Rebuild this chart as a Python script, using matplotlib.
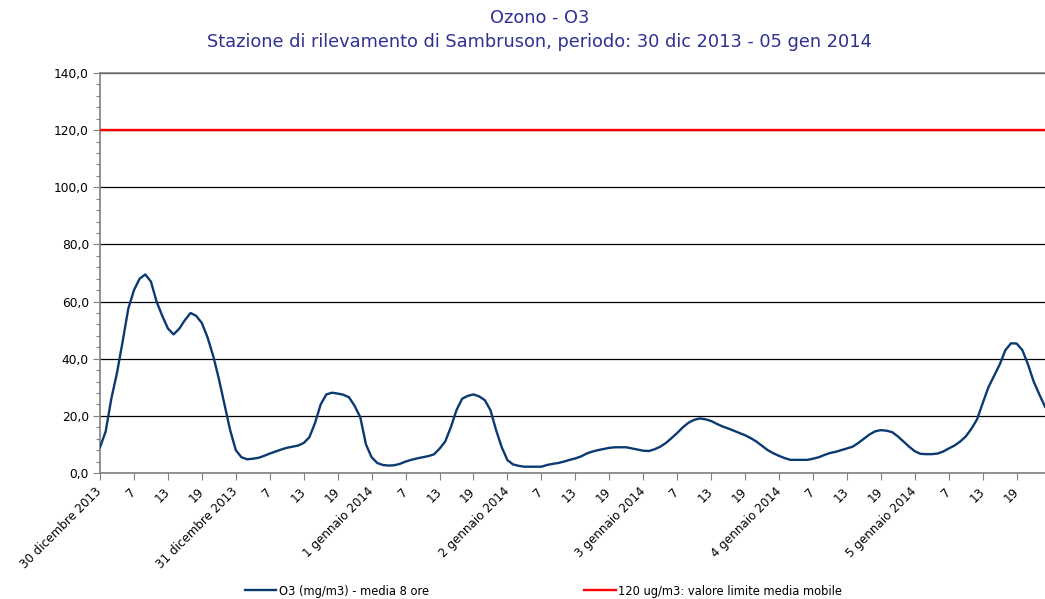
import numpy as np
import matplotlib
matplotlib.use("Agg")
import matplotlib.pyplot as plt
from matplotlib.ticker import MultipleLocator, FuncFormatter

# --- Data (hourly O3, 30 dic 2013 h1 -> 5 gen 2014 h24) ---
o3_values = [
    9, 14.5, 26, 35, 46, 57.5, 64, 68, 69.5, 67, 60, 55,
    50.6, 48.5, 50.5, 53.5, 56, 55, 52.5, 47.5, 41, 33, 24, 15,
    8, 5.5, 4.8, 5, 5.3, 6, 6.8, 7.5, 8.2, 8.8, 9.2, 9.6,
    10.5, 12.5, 17.5, 24, 27.5, 28.1, 27.8, 27.4, 26.5, 23.5, 19.5, 10,
    5.5, 3.5, 2.8, 2.6, 2.7, 3.2, 4, 4.6, 5.1, 5.5, 5.9, 6.5,
    8.5, 11, 16, 22, 26, 27, 27.5, 26.8, 25.5, 22, 15, 9,
    4.5, 3, 2.5, 2.2, 2.2, 2.2, 2.2, 2.8, 3.2, 3.5, 4, 4.6,
    5.1, 5.8, 6.8, 7.5, 8, 8.4, 8.8, 9, 9, 9, 8.6, 8.2,
    7.8, 7.7, 8.3, 9.2, 10.5, 12.2, 14, 16, 17.6, 18.6, 19.1, 18.8,
    18.2, 17.2, 16.3, 15.6, 14.8, 14, 13.2, 12.2, 11, 9.5, 8, 6.9,
    6, 5.2, 4.6, 4.6, 4.6, 4.6, 5, 5.5, 6.3, 7, 7.4, 8,
    8.6, 9.2, 10.5, 12, 13.5, 14.6, 15, 14.8, 14.3, 12.8, 11, 9.2,
    7.6, 6.7, 6.6, 6.6, 6.8, 7.5, 8.6, 9.6, 11, 12.8, 15.5, 18.8,
    24.5, 30, 34, 38, 43, 45.4, 45.3, 43, 38, 32, 27.5, 23.2,
]
limit_value = 120
day_labels = ["30 dicembre 2013", "31 dicembre 2013", "1 gennaio 2014",
              "2 gennaio 2014", "3 gennaio 2014", "4 gennaio 2014",
              "5 gennaio 2014"]
hour_labels = ["7", "13", "19"]
series_label = "O3 (mg/m3) - media 8 ore"
limit_label = "120 ug/m3: valore limite media mobile"
title_text = "Ozono - O3\nStazione di rilevamento di Sambruson, periodo: 30 dic 2013 - 05 gen 2014"

# --- Plot ---
hours = np.arange(len(o3_values))
fig = plt.figure(figsize=(10.45, 5.99), dpi=100)
ax = fig.add_axes([100 / 1045, 1 - 473 / 599, 945 / 1045, 400 / 599])

ax.plot(hours, o3_values, color="#0b3a70", lw=1.7, label=series_label, zorder=3)
ax.axhline(limit_value, color="#ff0000", lw=1.7, label=limit_label, zorder=3)

ax.set_xlim(0, len(o3_values) - 1)
ax.set_ylim(0, 140)

# y axis
ax.yaxis.set_major_locator(MultipleLocator(20))
ax.yaxis.set_minor_locator(MultipleLocator(4))
ax.yaxis.set_major_formatter(FuncFormatter(lambda v, p: f"{v:.1f}".replace(".", ",")))
ax.grid(axis="y", color="black", lw=0.9)
ax.tick_params(axis="y", which="major", length=5, width=0.8, color="#808080",
               labelsize=8.8, pad=3)
ax.tick_params(axis="y", which="minor", length=3, width=0.8, color="#808080")

# x axis: ticks every 6 hours
tick_pos = np.arange(0, len(o3_values), 6)
tick_lab = []
for k in range(len(tick_pos)):
    if k % 4 == 0:
        tick_lab.append(day_labels[k // 4])
    else:
        tick_lab.append(hour_labels[k % 4 - 1])
ax.set_xticks(tick_pos)
ax.set_xticklabels(tick_lab, rotation=45, ha="right", va="center",
                   rotation_mode="anchor", fontsize=8.6)
ax.tick_params(axis="x", length=5, width=0.8, color="#808080", pad=7)

for side in ["left", "bottom", "top"]:
    ax.spines[side].set_color("#808080")
    ax.spines[side].set_linewidth(1.2)
ax.spines["right"].set_visible(False)

fig.suptitle(title_text, x=0.516, y=0.985, fontsize=12.8, color="#2e3192",
             linespacing=1.45)

fig.legend(loc="center", bbox_to_anchor=(543.5 / 1045, 1 - 591 / 599), ncol=2,
           frameon=False, fontsize=8.3, handlelength=2.7, columnspacing=13.5,
           handletextpad=0.2)

fig.savefig("out.png", dpi=100)
